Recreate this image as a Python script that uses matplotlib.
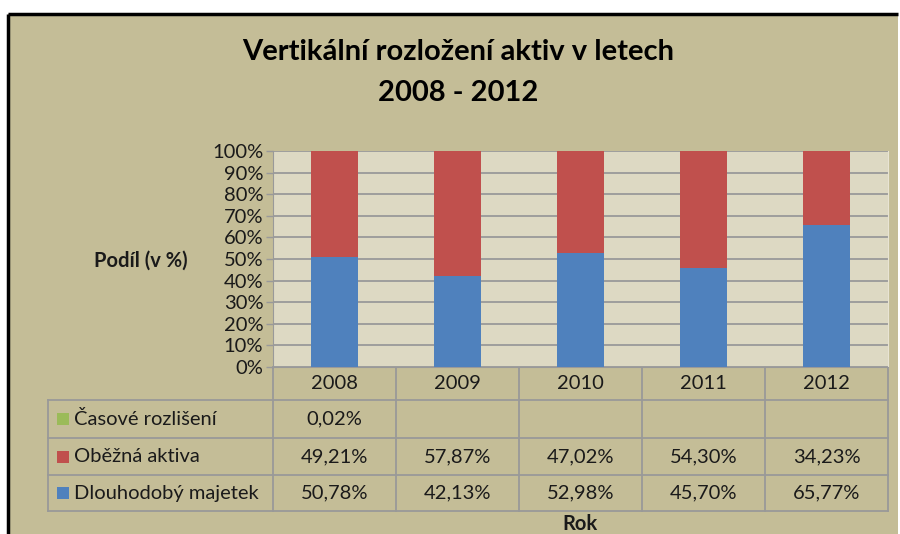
import matplotlib.pyplot as plt
from matplotlib.patches import Rectangle

plt.rcParams['font.family'] = ['Lato', 'DejaVu Sans']

# Data
years = ["2008", "2009", "2010", "2011", "2012"]
dlouhodoby = [50.78, 42.13, 52.98, 45.70, 65.77]
obezna = [49.21, 57.87, 47.02, 54.30, 34.23]
casove = [0.02, None, None, None, None]
series_names = ["Časové rozlišení", "Oběžná aktiva", "Dlouhodobý majetek"]

c_blue = "#4F81BD"
c_red = "#C0504D"
c_green = "#9BBB59"
bg = "#C4BD97"
plot_bg = "#DDD9C3"
grid_c = "#999999"
txt_c = "#1a1a1a"
fs = 14.5

W, H = 900, 534
fig = plt.figure(figsize=(9, 5.34), dpi=100, facecolor="white")

# overlay axes in pixel coordinates for frame + table
ov = fig.add_axes([0, 0, 1, 1], zorder=1)
ov.set_xlim(0, W)
ov.set_ylim(H, 0)
ov.axis("off")
ov.add_patch(Rectangle((8, 14), 890, 530, facecolor=bg, edgecolor="none"))
ov.plot([8, 898], [14, 14], color="black", linewidth=2.5, solid_capstyle="butt")
ov.plot([8, 8], [14, H], color="black", linewidth=2.5, solid_capstyle="butt")

# plot area
px0, px1, py0, py1 = 273, 888, 151, 367
ax = fig.add_axes([px0 / W, 1 - py1 / H, (px1 - px0) / W, (py1 - py0) / H], zorder=2)
ax.set_facecolor(plot_bg)

x = range(len(years))
green_vals = [v if v is not None else 0 for v in casove]
bottom2 = [a + b for a, b in zip(dlouhodoby, obezna)]
ax.bar(x, dlouhodoby, width=0.39, color=c_blue, zorder=3)
ax.bar(x, obezna, width=0.39, bottom=dlouhodoby, color=c_red, zorder=3)
ax.bar(x, green_vals, width=0.39, bottom=bottom2, color=c_green, zorder=3)

ax.set_xlim(-0.5, len(years) - 0.5)
ax.set_ylim(0, 100)
ax.set_yticks(range(0, 101, 10))
ax.set_yticklabels([f"{v}%" for v in range(0, 101, 10)], fontsize=fs, color=txt_c)
ax.set_xticks([])
ax.tick_params(axis="y", length=5, width=1, color=grid_c, pad=2)
ax.yaxis.grid(True, color=grid_c, linewidth=1.3)
ax.set_axisbelow(True)
ax.spines["top"].set_visible(False)
ax.spines["right"].set_color("#E8E4D4")
ax.spines["left"].set_color(grid_c)
ax.spines["bottom"].set_color(grid_c)

# title and axis titles
fig.text(458 / W, 1 - 52 / H, "Vertikální rozložení aktiv v letech", ha="center", va="center",
         fontsize=21, fontweight="bold", color="black")
fig.text(458 / W, 1 - 93 / H, "2008 - 2012", ha="center", va="center",
         fontsize=21, fontweight="bold", color="black")
fig.text(141 / W, 1 - 261 / H, "Podíl (v %)", ha="center", va="center",
         fontsize=fs, fontweight="bold", color=txt_c)
fig.text(580 / W, 1 - 524 / H, "Rok", ha="center", va="center",
         fontsize=fs, fontweight="bold", color=txt_c)

# data table below the plot
col_w = (px1 - px0) / len(years)
row_y = [367, 400, 438, 475, 511]
tl = dict(color=grid_c, linewidth=1.3)
for yy in row_y[1:]:
    ov.plot([48, px1], [yy, yy], **tl)
ov.plot([48, 48], [row_y[1], row_y[-1]], **tl)
for i in range(len(years) + 1):
    xx = px0 + i * col_w
    ov.plot([xx, xx], [row_y[0], row_y[-1]], **tl)

def fmt(v):
    return "" if v is None else f"{v:.2f}%".replace(".", ",")

for i, yr in enumerate(years):
    cx = px0 + (i + 0.5) * col_w
    ov.text(cx, (row_y[0] + row_y[1]) / 2, yr, ha="center", va="center", fontsize=fs, color=txt_c)

rows = [(series_names[0], casove, c_green),
        (series_names[1], obezna, c_red),
        (series_names[2], dlouhodoby, c_blue)]
for r, (name, vals, col) in enumerate(rows):
    cy = (row_y[r + 1] + row_y[r + 2]) / 2
    ov.add_patch(Rectangle((57, cy - 6), 12, 12, facecolor=col, edgecolor="none"))
    ov.text(74, cy, name, ha="left", va="center", fontsize=fs, color=txt_c)
    for i, v in enumerate(vals):
        cx = px0 + (i + 0.5) * col_w
        ov.text(cx, cy, fmt(v), ha="center", va="center", fontsize=fs, color=txt_c)

fig.savefig("out.png", dpi=100, facecolor="white")
